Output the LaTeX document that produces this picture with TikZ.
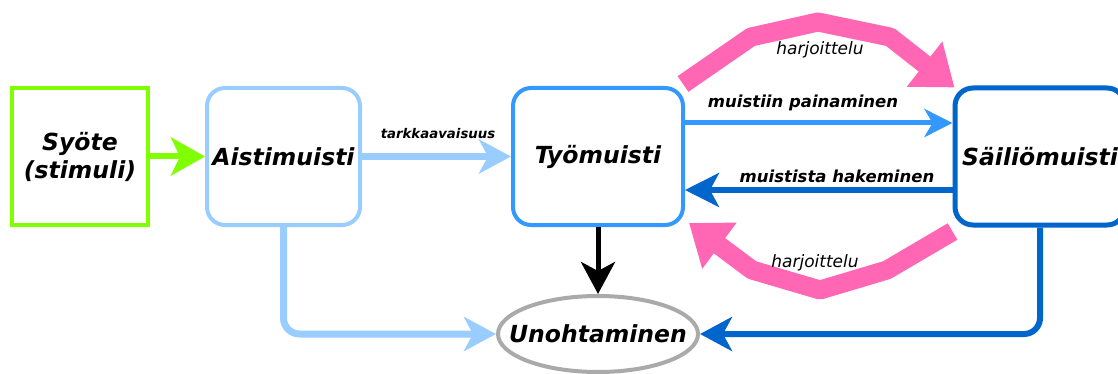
\documentclass[tikz,border=0pt]{standalone}
\usepackage{fontspec}
\setmainfont{DejaVu Sans}
\usetikzlibrary{arrows.meta,shapes.geometric}
\definecolor{cgreen}{HTML}{80FF00}
\definecolor{clight}{HTML}{99CCFF}
\definecolor{cmid}{HTML}{3399FF}
\definecolor{cdark}{HTML}{0066CC}
\definecolor{cpink}{HTML}{FF66B3}
\definecolor{cgray}{HTML}{AAAAAA}
\begin{document}
\begin{tikzpicture}[x=1pt,y=-1pt,
  mainfont/.style={font=\fontsize{23.5}{28}\selectfont\bfseries\itshape},
  box/.style={draw,fill=white,line width=4pt,rounded corners=18pt,minimum height=137pt,inner sep=0pt,
    mainfont,align=center},
  lbl/.style={font=\fontsize{16.5}{20}\selectfont\bfseries\itshape},
  slbl/.style={font=\fontsize{13.3}{16}\selectfont\bfseries\itshape},
  plbl/.style={font=\fontsize{17}{20}\selectfont\itshape},
  bigarrow/.style={line width=#1, -{Stealth[length=32pt,width=34pt,inset=9pt]}},
  pinkarrow/.style={draw=cpink,line width=19pt,line join=bevel,-{Triangle[length=38pt,width=55pt]}}
]
\clip (0,0) rectangle (1118,374);
\fill[white] (0,0) rectangle (1118,374);

\node[box,draw=cgreen,rounded corners=0pt,minimum width=136pt] (syote) at (80,156.5) {Syöte\\(stimuli)};
\node[box,draw=clight,minimum width=153pt] (aisti) at (283.5,156.5) {Aistimuisti};
\node[box,draw=cmid,minimum width=170pt] (tyo) at (598,156.5) {Työmuisti};
\node[box,draw=cdark,line width=5pt,minimum width=170pt] (saili) at (1040,156.5) {Säiliömuisti};
\node[ellipse,draw=cgray,fill=white,line width=4pt,minimum width=200pt,minimum height=76pt,inner sep=0pt] (unoh) at (598,334) {};
\node[mainfont] (unohtxt) at (unoh.center) {Unohtaminen};

% arrows
\draw[cgreen,line width=6pt,-{Stealth[length=34pt,width=38pt,inset=9pt]}] (syote.east) -- (aisti.west);
\draw[clight,bigarrow=7pt] (aisti.east) -- (tyo.west);
\node[slbl] (l1) at (438,134) {tarkkaavaisuus};
\draw[clight,bigarrow=7pt,rounded corners=16pt] (aisti.south) |- (unoh.west);
\draw[black,bigarrow=5pt] (tyo.south) -- (unoh.north);
\draw[cmid,line width=5pt,-{Stealth[length=28pt,width=28pt,inset=8pt]}] ([yshift=33.5pt]tyo.east) -- ([yshift=33.5pt]saili.west);
\node[lbl] (l2) at (803,103) {muistiin painaminen};
\draw[cdark,line width=5pt,-{Stealth[length=34pt,width=34pt,inset=9pt]}] ([yshift=-33.5pt]saili.west) -- ([yshift=-33.5pt]tyo.east);
\node[lbl] (l3) at (837,176) {muistista hakeminen};
\draw[cdark,bigarrow=6pt,rounded corners=16pt] (saili.south) |- (unoh.east);

% pink rehearsal arrows
\coordinate (p1) at (751,37);
\coordinate (p2) at (818,22);
\coordinate (p3) at (890,37);
\draw[pinkarrow] ([shift={(-2pt,2pt)}]tyo.north east) -- (p1) -- (p2) -- (p3) -- ([shift={(2pt,-2pt)}]saili.north west);
\node[plbl] (h1) at (820,50) {harjoittelu};
\coordinate (q1) at (887,270);
\coordinate (q2) at (820,290);
\coordinate (q3) at (752,270);
\draw[pinkarrow] ([shift={(0pt,-4pt)}]saili.south west) -- (q1) -- (q2) -- (q3) -- ([shift={(4pt,4pt)}]tyo.south east);
\node[plbl] (h2) at (815,263) {harjoittelu};
\end{tikzpicture}
\end{document}
